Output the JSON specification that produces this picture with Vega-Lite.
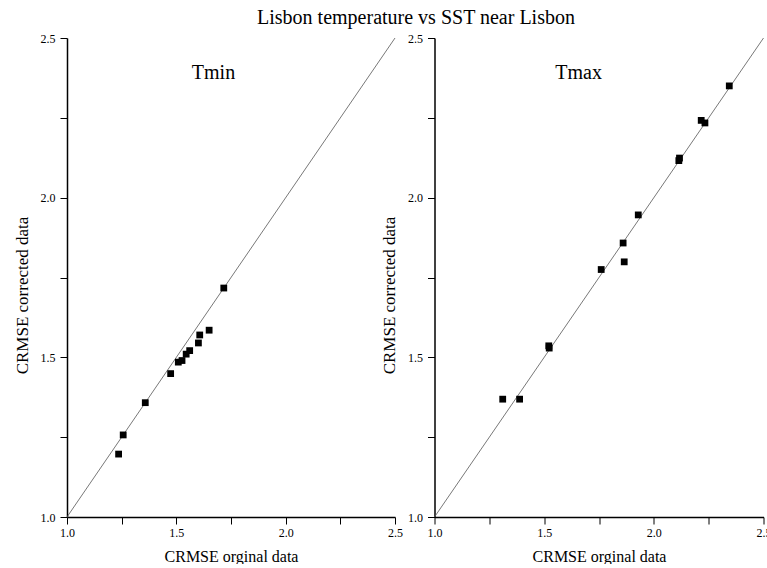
{
  "$schema": "https://vega.github.io/schema/vega-lite/v6.json",
  "background": "white",
  "padding": {"left": 13, "top": 8, "right": 0, "bottom": 0},
  "title": {"text": "Lisbon temperature vs SST near Lisbon", "fontSize": 20, "fontWeight": "normal", "font": "Liberation Serif", "color": "black", "anchor": "middle", "dx": 24, "offset": 4},
  "bounds": "flush",
  "spacing": 39.5,
  "config": {
    "font": "Liberation Serif",
    "view": {"stroke": null},
    "axis": {
      "grid": false,
      "domainColor": "black",
      "domainWidth": 1.5,
      "tickColor": "black",
      "tickWidth": 1,
      "tickSize": 7,
      "labelColor": "black",
      "labelFontSize": 12,
      "labelFont": "Liberation Serif",
      "titleFont": "Liberation Serif",
      "titleColor": "black",
      "titleFontWeight": "normal",
      "labelFlush": false,
      "labelOverlap": false,
      "labelBound": false
    },
    "axisX": {"labelPadding": 3, "titlePadding": 10, "titleFontSize": 16},
    "axisY": {"labelPadding": 5, "titlePadding": 9, "titleFontSize": 17}
  },
  "datasets": {
    "diag": [{"orig": 1.0, "corr": 1.0}, {"orig": 2.5, "corr": 2.5}],
    "tmin": [
      {"orig": 1.236, "corr": 1.197},
      {"orig": 1.257, "corr": 1.257},
      {"orig": 1.358, "corr": 1.358},
      {"orig": 1.474, "corr": 1.449},
      {"orig": 1.509, "corr": 1.485},
      {"orig": 1.526, "corr": 1.490},
      {"orig": 1.545, "corr": 1.510},
      {"orig": 1.561, "corr": 1.521},
      {"orig": 1.601, "corr": 1.545},
      {"orig": 1.607, "corr": 1.570},
      {"orig": 1.650, "corr": 1.585},
      {"orig": 1.717, "corr": 1.717}
    ],
    "tmax": [
      {"orig": 1.311, "corr": 1.369},
      {"orig": 1.388, "corr": 1.369},
      {"orig": 1.521, "corr": 1.536},
      {"orig": 1.523, "corr": 1.529},
      {"orig": 1.760, "corr": 1.775},
      {"orig": 1.860, "corr": 1.858},
      {"orig": 1.865, "corr": 1.799},
      {"orig": 1.929, "corr": 1.946},
      {"orig": 2.114, "corr": 2.116},
      {"orig": 2.117, "corr": 2.124},
      {"orig": 2.216, "corr": 2.242},
      {"orig": 2.233, "corr": 2.234},
      {"orig": 2.344, "corr": 2.350}
    ]
  },
  "hconcat": [
    {
      "width": 328,
      "height": 479,
      "layer": [
        {
          "data": {"name": "diag"},
          "mark": {"type": "line", "color": "#555555", "strokeWidth": 0.8},
          "encoding": {
            "x": {"field": "orig", "type": "quantitative", "scale": {"domain": [1, 2.5], "nice": false, "zero": false},
                  "axis": {"title": "CRMSE orginal data", "values": [1, 1.25, 1.5, 1.75, 2, 2.25, 2.5], "format": ".2f", "labelExpr": "indexof(['1.00','1.50','2.00','2.50'], datum.label) >= 0 ? slice(datum.label, 0, 3) : ''", "labelOverlap": false}},
            "y": {"field": "corr", "type": "quantitative", "scale": {"domain": [1, 2.5], "nice": false, "zero": false},
                  "axis": {"title": "CRMSE corrected data", "titleY": 257, "values": [1, 1.25, 1.5, 1.75, 2, 2.25, 2.5], "format": ".2f", "labelExpr": "indexof(['1.00','1.50','2.00','2.50'], datum.label) >= 0 ? slice(datum.label, 0, 3) : ''", "labelOverlap": false}}
          }
        },
        {
          "data": {"name": "tmin"},
          "mark": {"type": "square", "size": 46, "color": "black", "opacity": 1},
          "encoding": {
            "x": {"field": "orig", "type": "quantitative"},
            "y": {"field": "corr", "type": "quantitative"}
          }
        },
        {
          "data": {"values": [{}]},
          "mark": {"type": "text", "fontSize": 20, "font": "Liberation Serif", "color": "black", "baseline": "middle", "align": "center"},
          "encoding": {
            "x": {"datum": 1.67},
            "y": {"datum": 2.39},
            "text": {"value": "Tmin"}
          }
        }
      ]
    },
    {
      "width": 329,
      "height": 479,
      "layer": [
        {
          "data": {"name": "diag"},
          "mark": {"type": "line", "color": "#555555", "strokeWidth": 0.8},
          "encoding": {
            "x": {"field": "orig", "type": "quantitative", "scale": {"domain": [1, 2.5], "nice": false, "zero": false},
                  "axis": {"title": "CRMSE orginal data", "values": [1, 1.25, 1.5, 1.75, 2, 2.25, 2.5], "format": ".2f", "labelExpr": "indexof(['1.00','1.50','2.00','2.50'], datum.label) >= 0 ? slice(datum.label, 0, 3) : ''", "labelOverlap": false}},
            "y": {"field": "corr", "type": "quantitative", "scale": {"domain": [1, 2.5], "nice": false, "zero": false},
                  "axis": {"title": "CRMSE corrected data", "titleY": 257, "values": [1, 1.25, 1.5, 1.75, 2, 2.25, 2.5], "format": ".2f", "labelExpr": "indexof(['1.00','1.50','2.00','2.50'], datum.label) >= 0 ? slice(datum.label, 0, 3) : ''", "labelOverlap": false}}
          }
        },
        {
          "data": {"name": "tmax"},
          "mark": {"type": "square", "size": 46, "color": "black", "opacity": 1},
          "encoding": {
            "x": {"field": "orig", "type": "quantitative"},
            "y": {"field": "corr", "type": "quantitative"}
          }
        },
        {
          "data": {"values": [{}]},
          "mark": {"type": "text", "fontSize": 20, "font": "Liberation Serif", "color": "black", "baseline": "middle", "align": "center"},
          "encoding": {
            "x": {"datum": 1.657},
            "y": {"datum": 2.39},
            "text": {"value": "Tmax"}
          }
        }
      ]
    }
  ]
}
